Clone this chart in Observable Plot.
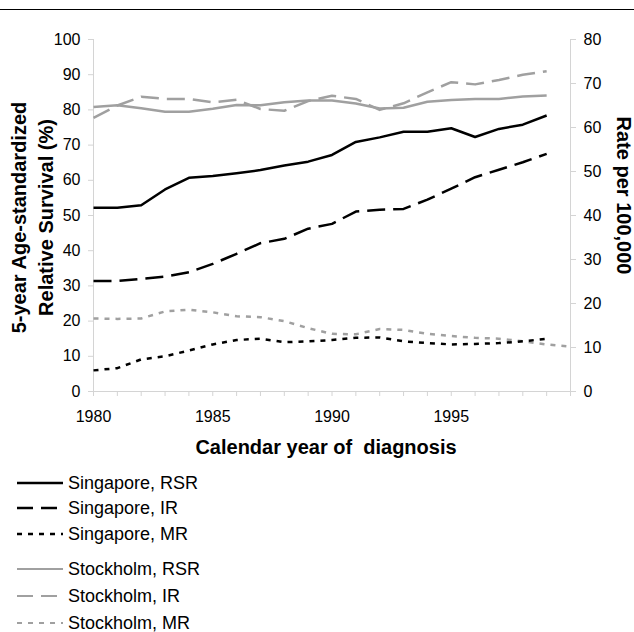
<!DOCTYPE html>
<html>
<head>
<meta charset="utf-8">
<script src="https://cdn.jsdelivr.net/npm/d3@7"></script>
<script src="https://cdn.jsdelivr.net/npm/@observablehq/plot@0.6"></script>
<style>
  html, body { margin: 0; padding: 0; background: #fff; overflow: hidden; }
  body { width: 634px; height: 632px; position: relative; font-family: "Liberation Sans", Arial, sans-serif; }
  #rule { position: absolute; left: 0; top: 9px; width: 634px; height: 1px; background: #000; }
  #chart { position: absolute; left: 0; top: 0; }
  #chart svg text { white-space: pre; }
  #legend { position: absolute; left: 17px; top: 470px; }
  .row { display: flex; align-items: center; height: 25.5px; font-size: 18px; line-height: 18px; color: #000; }
  .row svg { margin-right: 5px; }
  .gap { height: 9px; }
  .g2 .row { height: 27px; }
</style>
</head>
<body>
<div id="chart"></div>
<div id="rule"></div>
<div id="legend"></div>
<script>
// ---- data ----
const years = [1980,1981,1982,1983,1984,1985,1986,1987,1988,1989,1990,1991,1992,1993,1994,1995,1996,1997,1998,1999];
const yearsMR = [1980,1981,1982,1983,1984,1985,1986,1987,1988,1989,1990,1991,1992,1993,1994,1995,1996,1997,1998,1999,2000];
// 5-year relative survival (%), left axis
const singaporeRSR = [52.2,52.2,52.9,57.4,60.7,61.2,62.0,62.9,64.2,65.3,67.2,70.9,72.2,73.8,73.8,74.8,72.3,74.6,75.8,78.4];
const stockholmRSR = [80.8,81.3,80.5,79.5,79.5,80.3,81.4,81.3,82.2,82.7,82.7,81.8,80.4,80.6,82.3,82.8,83.1,83.1,83.8,84.1];
// rates per 100,000, right axis
const singaporeIR = [25.1,25.1,25.6,26.1,27.1,29.0,31.3,33.7,34.7,37.0,38.1,40.9,41.3,41.5,43.6,46.1,48.7,50.4,52.1,54.0];
const stockholmIR = [62.2,65.0,67.0,66.5,66.5,65.7,66.3,64.2,63.8,66.0,67.2,66.5,64.0,65.5,68.0,70.3,69.8,70.8,72.0,72.8];
const singaporeMR = [4.8,5.3,7.3,8.0,9.3,10.7,11.7,12.0,11.2,11.4,11.7,12.2,12.3,11.4,11.0,10.7,10.8,11.0,11.4,12.0];
const stockholmMR = [16.6,16.5,16.6,18.2,18.6,18.0,17.1,16.9,16.0,14.4,13.1,13.0,14.2,14.0,13.1,12.6,12.2,12.0,11.4,10.7,10.2];

const leftTicks = [0,10,20,30,40,50,60,70,80,90,100];
const rightTicks = [0,10,20,30,40,50,60,70,80];
const xTicks = [1980,1981,1982,1983,1984,1985,1986,1987,1988,1989,1990,1991,1992,1993,1994,1995,1996,1997,1998,1999,2000];
const xLabels = [1980,1985,1990,1995];

const leftTitle = "5-year Age-standardized\nRelative Survival (%)";
const rightTitle = "Rate per 100,000";
const xTitle = "Calendar year of  diagnosis";

const seriesNames = ["Singapore, RSR","Singapore, IR","Singapore, MR","Stockholm, RSR","Stockholm, IR","Stockholm, MR"];

// ---- styles ----
const BLACK = "#000000", GRAY = "#a0a0a0", AXIS = "#d4d4d4";
const DASH_IR = "18,8", DASH_MR = "5,6";
const k = 100 / 80; // right axis (0-80) mapped onto left scale (0-100)

function series(vals, xs, scaleRight, stroke, dash) {
  return Plot.line(vals, {
    x: (d, i) => xs[i],
    y: d => scaleRight ? d * k : d,
    stroke, strokeWidth: 2.5, strokeDasharray: dash,
    strokeLinecap: "butt", strokeLinejoin: "round"
  });
}

const chart = Plot.plot({
  width: 634,
  height: 470,
  marginLeft: 93,
  marginRight: 64,
  marginTop: 39,
  marginBottom: 79,
  style: { fontFamily: "Liberation Sans, Arial, sans-serif", background: "white", overflow: "visible" },
  x: { domain: [1980, 2000] },
  y: { domain: [0, 100] },
  marks: [
    Plot.ruleY([0], { stroke: AXIS }),
    Plot.ruleX([1980], { stroke: AXIS }),
    Plot.ruleX([2000], { stroke: AXIS }),
    Plot.axisX(xTicks, { anchor: "bottom", tickSize: 5, tickPadding: 14, stroke: AXIS, fontSize: 16,
      tickFormat: d => xLabels.includes(d) ? String(d) : "", label: null }),
    Plot.axisY(leftTicks, { anchor: "left", tickSize: 5, tickPadding: 8, stroke: AXIS, fontSize: 16, label: null }),
    Plot.axisY(rightTicks.map(t => t * k), { anchor: "right", tickSize: 5, tickPadding: 8, stroke: AXIS, fontSize: 16,
      tickFormat: d => String(Math.round(d / k)), label: null }),
    series(stockholmRSR, years, false, GRAY, null),
    series(stockholmIR, years, true, GRAY, DASH_IR),
    series(stockholmMR, yearsMR, true, GRAY, DASH_MR),
    series(singaporeRSR, years, false, BLACK, null),
    series(singaporeIR, years, true, BLACK, DASH_IR),
    series(singaporeMR, years, true, BLACK, DASH_MR),
    Plot.text([xTitle], { frameAnchor: "bottom", dx: -6, dy: 62, lineAnchor: "bottom",
      fontWeight: "bold", fontSize: 20, fill: "black" }),
    Plot.text([leftTitle], { frameAnchor: "left", dx: -62.6, dy: 2, rotate: -90, lineHeight: 1.35,
      fontWeight: "bold", fontSize: 20, fill: "black", textAnchor: "middle" }),
    Plot.text([rightTitle], { frameAnchor: "right", dx: 53, dy: -20, rotate: 90,
      fontWeight: "bold", fontSize: 20, fill: "black", textAnchor: "middle" })
  ]
});
document.getElementById("chart").appendChild(chart);

// ---- legend ----
const legendStyles = [
  { stroke: BLACK, dash: null, w: 2.5 },
  { stroke: BLACK, dash: "16,8", w: 2.5 },
  { stroke: BLACK, dash: "5,6", w: 2.5 },
  { stroke: GRAY, dash: null, w: 2 },
  { stroke: GRAY, dash: "16,8", w: 2 },
  { stroke: GRAY, dash: "5,6", w: 2 }
];
const legend = document.getElementById("legend");
const groups = [document.createElement("div"), document.createElement("div")];
groups[1].className = "g2";
legend.appendChild(groups[0]);
const gap = document.createElement("div"); gap.className = "gap"; legend.appendChild(gap);
legend.appendChild(groups[1]);
seriesNames.forEach((name, i) => {
  const s = legendStyles[i];
  const row = document.createElement("div");
  row.className = "row";
  row.innerHTML = `<svg width="46" height="10"><line x1="0" x2="46" y1="5" y2="5" stroke="${s.stroke}" stroke-width="${s.w}" ${s.dash ? `stroke-dasharray="${s.dash}"` : ""}/></svg><span>${name}</span>`;
  groups[i < 3 ? 0 : 1].appendChild(row);
});
</script>
</body>
</html>
